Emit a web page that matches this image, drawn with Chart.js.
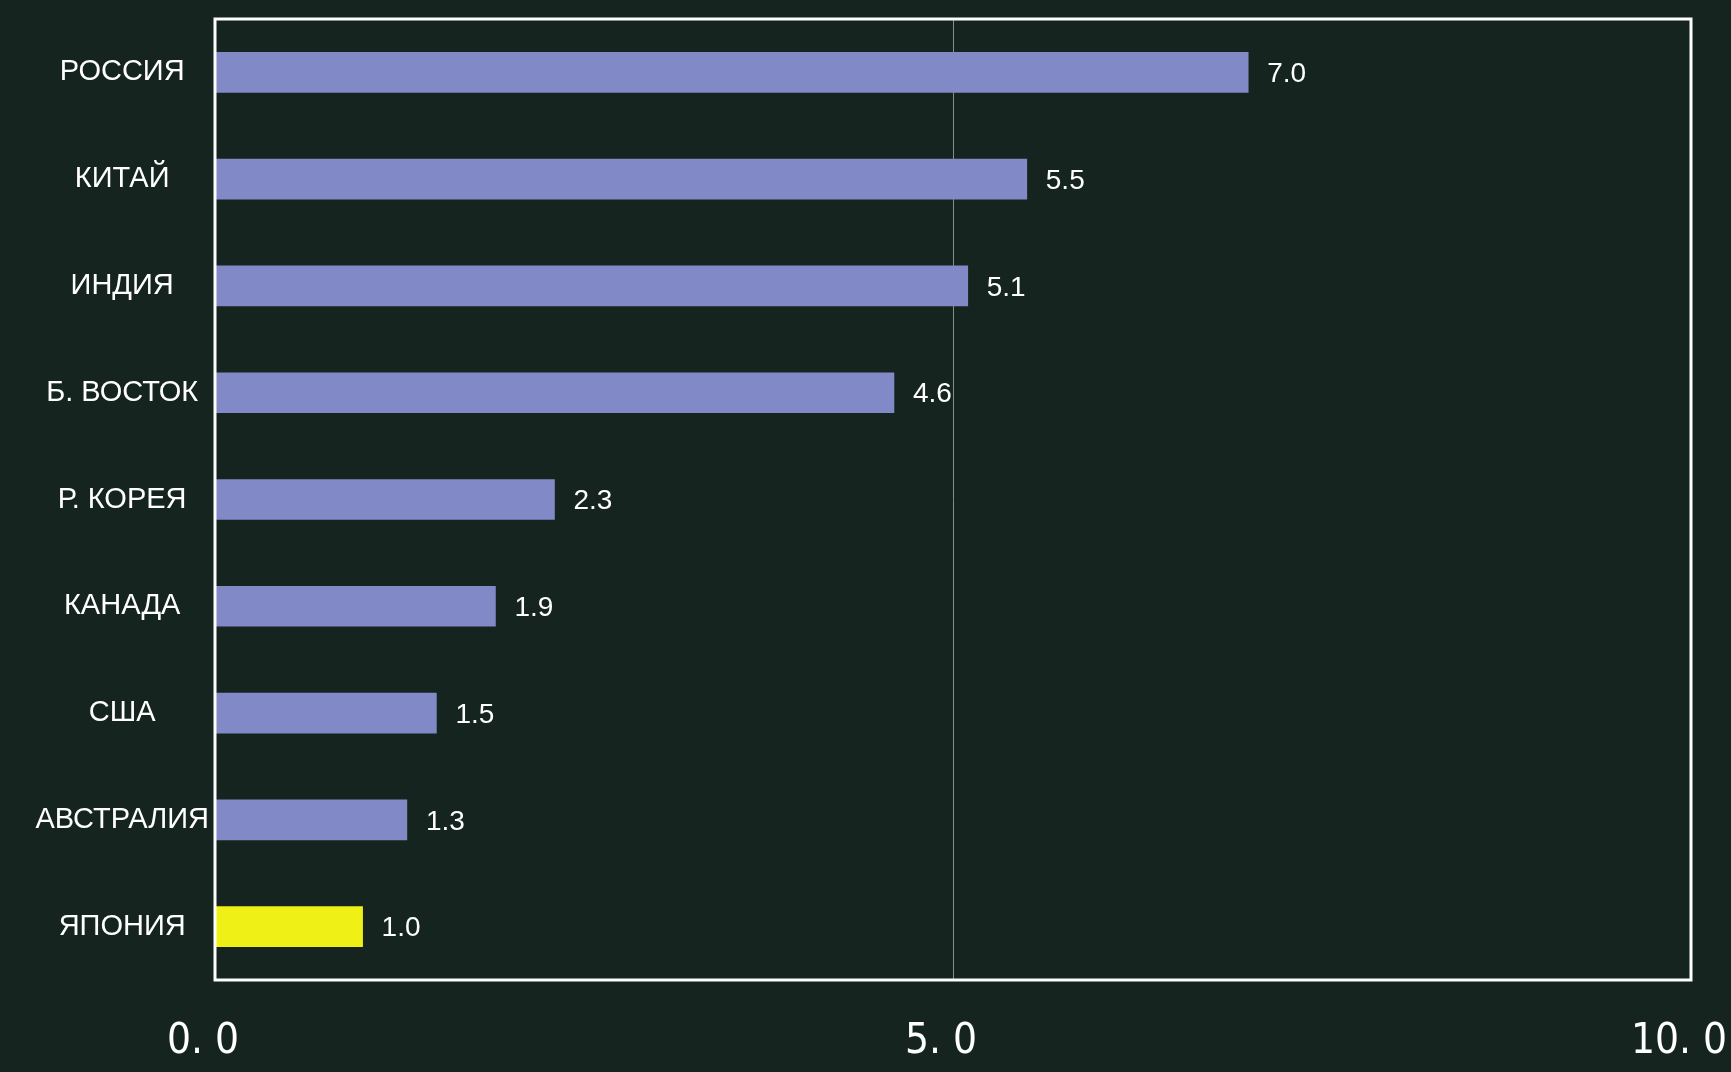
<!DOCTYPE html>
<html>
<head>
<meta charset="utf-8">
<script src="https://cdn.jsdelivr.net/npm/chart.js@4/dist/chart.umd.min.js"></script>
<style>
  html, body { margin: 0; padding: 0; background: #15241e; }
  #wrap { width: 1731px; height: 1072px; position: relative; }
</style>
</head>
<body>
<div id="wrap"><canvas id="c"></canvas></div>
<script>
const categories = ["РОССИЯ", "КИТАЙ", "ИНДИЯ", "Б. ВОСТОК", "Р. КОРЕЯ", "КАНАДА", "США", "АВСТРАЛИЯ", "ЯПОНИЯ"];
const values = [7.0, 5.5, 5.1, 4.6, 2.3, 1.9, 1.5, 1.3, 1.0];
const valueLabels = ["7.0", "5.5", "5.1", "4.6", "2.3", "1.9", "1.5", "1.3", "1.0"];
const xTicks = [0, 5, 10];
const xTickLabels = ["0. 0", "5. 0", "10. 0"];

const BAR = "#8189c6";
const HIGHLIGHT = "#eef016";
const barColors = categories.map(c => c === "ЯПОНИЯ" ? HIGHLIGHT : BAR);

const frame = {
  id: "frame",
  afterDatasetsDraw(chart) {
    const a = chart.chartArea, ctx = chart.ctx;
    ctx.save();
    ctx.strokeStyle = "#ffffff";
    ctx.lineWidth = 3;
    ctx.strokeRect(a.left, a.top, a.right - a.left, a.bottom - a.top);
    ctx.restore();
  }
};

const valueText = {
  id: "valueText",
  afterDatasetsDraw(chart) {
    const ctx = chart.ctx;
    const meta = chart.getDatasetMeta(0);
    ctx.save();
    ctx.fillStyle = "#ffffff";
    ctx.font = "28px 'Liberation Sans', Arial, sans-serif";
    ctx.textAlign = "left";
    ctx.textBaseline = "middle";
    meta.data.forEach((el, i) => {
      ctx.fillText(valueLabels[i], el.x + 19, el.y + 2);
    });
    ctx.restore();
  }
};

new Chart(document.getElementById("c"), {
  type: "bar",
  data: {
    labels: categories,
    datasets: [{
      data: values,
      backgroundColor: barColors,
      borderWidth: 0,
      barThickness: 40
    }]
  },
  options: {
    indexAxis: "y",
    responsive: true,
    maintainAspectRatio: false,
    animation: false,
    layout: { padding: { top: 19, right: 40, left: 0, bottom: 0 } },
    plugins: { legend: { display: false }, tooltip: { enabled: false } },
    scales: {
      x: {
        min: 0, max: 10,
        afterBuildTicks(scale) { scale.ticks = xTicks.map(v => ({ value: v })); },
        afterFit(scale) { scale.height = 92; scale.paddingLeft = 0; scale.paddingRight = 0; },
        ticks: {
          color: "#ffffff",
          font: { family: "'Liberation Sans Narrow', 'DejaVu Sans Condensed', 'Liberation Sans', sans-serif", size: 42 },
          padding: 37,
          labelOffset: -12,
          maxRotation: 0,
          autoSkip: false,
          callback: (v) => xTickLabels[xTicks.indexOf(v)]
        },
        grid: {
          drawTicks: false,
          lineWidth: 1,
          color: (ctx) => (ctx.tick && ctx.tick.value === 5) ? "rgba(170,180,175,0.75)" : "rgba(0,0,0,0)"
        },
        border: { display: false }
      },
      y: {
        afterFit(scale) { scale.width = 215; scale.paddingTop = 0; scale.paddingBottom = 0; },
        ticks: {
          color: "#ffffff",
          crossAlign: "center",
          padding: 6,
          font: { family: "'Liberation Sans', Arial, sans-serif", size: 29 }
        },
        grid: { display: false, drawTicks: false },
        border: { display: false }
      }
    }
  },
  plugins: [frame, valueText]
});
</script>
</body>
</html>
